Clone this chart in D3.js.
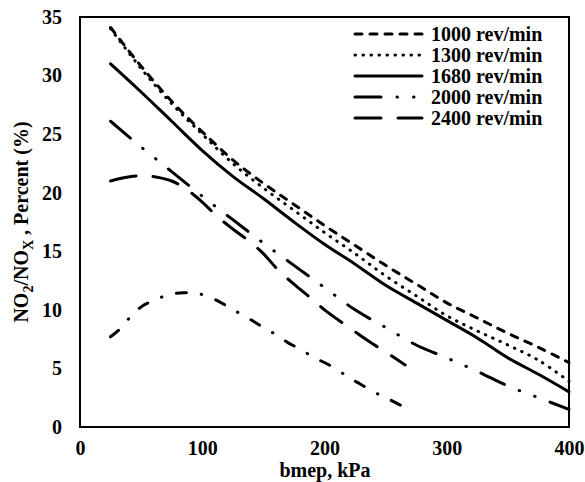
<!DOCTYPE html>
<html>
<head>
<meta charset="utf-8">
<script src="https://cdn.jsdelivr.net/npm/d3@7"></script>
<style>
  html, body { margin: 0; padding: 0; background: #fff; }
  svg { display: block; }
  text { font-family: "Liberation Serif", "Times New Roman", serif; font-weight: bold; fill: #000; }
</style>
</head>
<body>
<svg id="chart" width="585" height="482"></svg>
<script>
// ---- data ----
const xTicks = [0, 100, 200, 300, 400];
const yTicks = [0, 5, 10, 15, 20, 25, 30, 35];
const legendLabels = ["1000 rev/min", "1300 rev/min", "1680 rev/min", "2000 rev/min", "2400 rev/min"];

const bmepA = [25, 50, 75, 100, 125, 150, 175, 200, 225, 250, 275, 300, 325, 350, 375, 400];
const rpm1000 = [34.1, 30.8, 27.8, 25.2, 22.8, 20.8, 19.0, 17.2, 15.5, 13.8, 12.2, 10.6, 9.3, 8.0, 6.8, 5.5];
const rpm1300 = [34.0, 30.6, 27.6, 25.0, 22.5, 20.4, 18.5, 16.6, 14.8, 12.9, 11.2, 9.5, 8.2, 7.0, 5.7, 3.9];
const rpm1680 = [31.0, 28.6, 26.1, 23.6, 21.4, 19.5, 17.5, 15.6, 13.9, 12.1, 10.6, 9.1, 7.6, 5.9, 4.5, 3.0];
const rpm2000 = [26.1, 23.9, 21.8, 19.7, 17.7, 15.7, 13.8, 11.9, 10.0, 8.5, 7.0, 5.9, 4.75, 3.5, 2.5, 1.5];

const bmepB = [25, 37, 50, 62, 75, 87, 100, 112, 125, 139, 150, 163, 175, 190, 200, 220, 235, 250, 266];
const rpm2400 = [21.0, 21.3, 21.45, 21.35, 21.0, 20.3, 19.2, 18.0, 16.9, 15.8, 14.8, 13.3, 12.2, 10.9, 10.0, 8.5, 7.4, 6.4, 5.3];

const bmepC = [25, 33, 42, 52, 61, 72, 85, 96, 108, 119, 128, 139, 150, 160, 170, 181, 191, 202, 213, 222, 233, 244, 254, 265];
const lowerSeries = [7.7, 8.4, 9.5, 10.4, 10.8, 11.3, 11.45, 11.4, 11.0, 10.4, 9.85, 9.2, 8.5, 7.9, 7.2, 6.6, 5.95, 5.4, 4.7, 4.1, 3.44, 2.8, 2.3, 1.7];

// ---- layout ----
const svg = d3.select("#chart");
const L = 80, R = 569, T = 17, B = 427;
const FS = "20px";
const x = d3.scaleLinear().domain([0, 400]).range([L, R]);
const y = d3.scaleLinear().domain([0, 35]).range([B, T]);

const styles = {
  d1000: "7,8",
  d1300: "0.5,7.5",
  d1680: null,
  d2000: "26,16,0.5,16,0.5,16",
  d2400: "26,17",
  dLow: "10,15,0.5,15"
};

const series = [
  { xs: bmepA, ys: rpm1000, dash: styles.d1000, label: legendLabels[0] },
  { xs: bmepA, ys: rpm1300, dash: styles.d1300, label: legendLabels[1] },
  { xs: bmepA, ys: rpm1680, dash: styles.d1680, label: legendLabels[2] },
  { xs: bmepA, ys: rpm2000, dash: styles.d2000, label: legendLabels[3] },
  { xs: bmepB, ys: rpm2400, dash: styles.d2400, label: legendLabels[4] },
  { xs: bmepC, ys: lowerSeries, dash: styles.dLow, label: null }
];

// axes
const xAxis = svg.append("g").attr("transform", `translate(0,${B})`)
  .call(d3.axisBottom(x).tickValues(xTicks).tickSize(0).tickPadding(14).tickFormat(d3.format("d")));
const yAxis = svg.append("g").attr("transform", `translate(${L},0)`)
  .call(d3.axisLeft(y).tickValues(yTicks).tickSize(0).tickPadding(18).tickFormat(d3.format("d")));
[xAxis, yAxis].forEach(a => {
  a.select(".domain").remove();
  a.selectAll("text").style("font-family", '"Liberation Serif", serif').style("font-weight", "bold").style("font-size", FS).attr("fill", "#000");
});

// lines
const line = d3.line().curve(d3.curveCatmullRom.alpha(0.5));
series.forEach(s => {
  const pts = s.xs.map((v, i) => [x(v), y(s.ys[i])]);
  const p = svg.append("path")
    .attr("d", line(pts))
    .attr("fill", "none")
    .attr("stroke", "#000")
    .attr("stroke-width", 3)
    .attr("stroke-linecap", "round");
  if (s.dash) p.attr("stroke-dasharray", s.dash);
});

// frame
svg.append("rect").attr("x", L).attr("y", T).attr("width", R - L).attr("height", B - T)
  .attr("fill", "none").attr("stroke", "#000").attr("stroke-width", 2);

// legend
const lg = svg.append("g");
series.filter(s => s.label).forEach((s, i) => {
  const ly = 34 + i * 21;
  const l = lg.append("line").attr("x1", 355).attr("x2", 422).attr("y1", ly).attr("y2", ly)
    .attr("stroke", "#000").attr("stroke-width", 3).attr("stroke-linecap", "round");
  if (s.dash) l.attr("stroke-dasharray", s.dash);
  lg.append("text").attr("x", 431).attr("y", ly).attr("dy", "0.35em")
    .style("font-size", FS).text(s.label);
});

// axis titles
svg.append("text").attr("x", 325).attr("y", 477).attr("text-anchor", "middle")
  .style("font-size", FS).text("bmep, kPa");

const yt = svg.append("text").attr("transform", "translate(28,222) rotate(-90)")
  .attr("text-anchor", "middle").style("font-size", FS);
yt.append("tspan").text("NO");
yt.append("tspan").attr("dy", 5).style("font-size", "14px").text("2");
yt.append("tspan").attr("dy", -5).text("/NO");
yt.append("tspan").attr("dy", 5).style("font-size", "14px").text("X");
yt.append("tspan").attr("dy", -5).text(" , Percent (%)");
</script>
</body>
</html>
